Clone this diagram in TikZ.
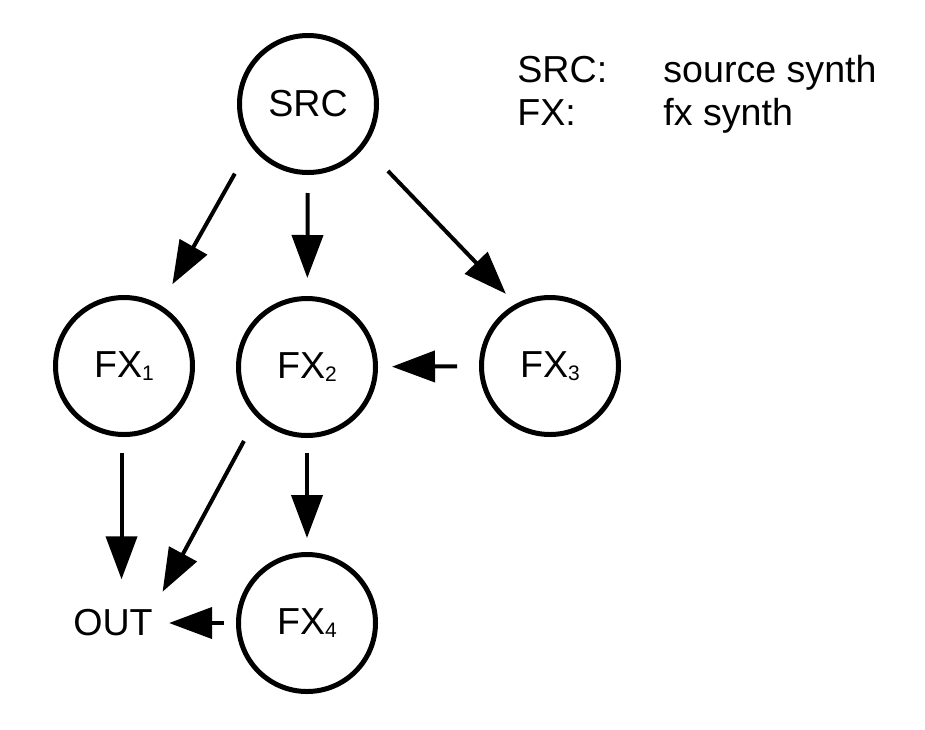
\documentclass[tikz,border=0pt]{standalone}
\usepackage{fontspec}
\setmainfont{Liberation Sans}
\usetikzlibrary{arrows.meta}
\newcommand{\synthidx}[1]{\raisebox{-1.8pt}{\fontsize{10.5}{10.5}\selectfont #1}}
\begin{document}
\begin{tikzpicture}[x=0.5pt,y=-0.5pt,>={Triangle[length=21.5pt 0 0,width=15.5pt 0 0]},
    font=\fontsize{18.8}{22}\selectfont, line join=round,
    synth/.style={circle,draw,line width=2.5pt,minimum size=68.5pt,inner sep=0pt},
    arr/.style={->,line width=2pt}]
    \useasboundingbox (0,0) rectangle (925,729);
    % cac synth
    \node[synth] (src) at (308,104) {SRC};
    \node[synth] (fx1) at (124,366) {FX\synthidx{1}};
    \node[synth] (fx2) at (307,367) {FX\synthidx{2}};
    \node[synth] (fx3) at (550,366) {FX\synthidx{3}};
    \node[synth] (fx4) at (307,623) {FX\synthidx{4}};
    \node[inner sep=0pt] (out) at (113,623) {OUT};
    % chu thich
    \node[anchor=base west,inner sep=0pt] (keysrc) at (517,82) {SRC:};
    \node[anchor=base west,inner sep=0pt] (txtsrc) at (663,82) {source synth};
    \node[anchor=base west,inner sep=0pt] (keyfx) at (517,125) {FX:};
    \node[anchor=base west,inner sep=0pt] (txtfx) at (663,125) {fx synth};
    % cac mui ten
    \draw[arr,shorten <=16pt,shorten >=12pt] (src.216)--(fx1.59);
    \draw[arr,shorten <=9pt,shorten >=9pt] (src)--(fx2);
    \draw[arr,shorten <=16.75pt,shorten >=7pt] (src.323.5)--(fx3.119.3);
    \draw[arr,shorten <=11pt,shorten >=7pt] (fx3)--(fx2);
    \draw[arr,shorten <=8pt,shorten >=15pt] (fx1.268)--(fx1.268 |- out.north);
    \draw[arr,shorten <=13.5pt,shorten >=10pt] (fx2.225.6)--(out.north east);
    \draw[arr,shorten <=7.5pt,shorten >=7pt] (fx2)--(fx4);
    \draw[arr,shorten <=6pt,shorten >=8pt] (fx4)--(out);
\end{tikzpicture}
\end{document}
